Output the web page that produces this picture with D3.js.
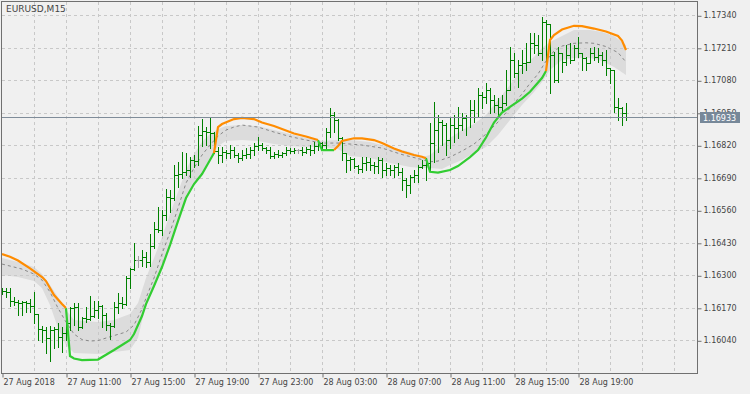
<!DOCTYPE html>
<html>
<head>
<meta charset="utf-8">
<script src="https://cdn.jsdelivr.net/npm/d3@7"></script>
<style>
  html, body { margin: 0; padding: 0; background: #f0f0f0; }
  svg { display: block; font-family: "DejaVu Sans", Verdana, sans-serif; }
</style>
</head>
<body>
<div id="chart"></div>
<script>
// Chart size
const width = 750;
const height = 394;

const symbol = 'EURUSD,M15';
const lastPrice = 1.16933;

// Price axis labels
const priceTicks = [1.16040, 1.16170, 1.16300, 1.16430, 1.16560, 1.16690, 1.16820, 1.16950, 1.17080, 1.17210, 1.17340];

// Time axis labels and the bar each one sits on (M15 bars, first bar 27 Aug 07:00)
const timeLabels = ['27 Aug 2018', '27 Aug 11:00', '27 Aug 15:00', '27 Aug 19:00', '27 Aug 23:00',
  '28 Aug 03:00', '28 Aug 07:00', '28 Aug 11:00', '28 Aug 15:00', '28 Aug 19:00'];
const timeLabelBars = [0, 16, 32, 48, 64, 80, 96, 112, 128, 144];

// OHLC bars
const opens = [
  1.16241, 1.16237, 1.16233, 1.16197, 1.16193, 1.16189, 1.16193, 1.16189, 1.16177, 1.16145,
  1.16085, 1.16081, 1.16049, 1.16081, 1.16085, 1.16053, 1.16069, 1.16109, 1.16169, 1.16173,
  1.16093, 1.16129, 1.16125, 1.16137, 1.16161, 1.16177, 1.16141, 1.16101, 1.16097, 1.16173,
  1.16189, 1.16185, 1.16289, 1.16325, 1.16361, 1.16361, 1.16373, 1.16353, 1.16417, 1.16485,
  1.16481, 1.16541, 1.16613, 1.16609, 1.16701, 1.16705, 1.16713, 1.16721, 1.16761, 1.16757,
  1.16861, 1.16877, 1.16873, 1.16869, 1.16797, 1.16781, 1.16793, 1.16789, 1.16801, 1.16781,
  1.16769, 1.16781, 1.16785, 1.16801, 1.16817, 1.16821, 1.16809, 1.16801, 1.16777, 1.16785,
  1.16781, 1.16789, 1.16801, 1.16797, 1.16801, 1.16801, 1.16793, 1.16805, 1.16801, 1.16817,
  1.16829, 1.16821, 1.16873, 1.16941, 1.16921, 1.16849, 1.16789, 1.16761, 1.16765, 1.16737,
  1.16725, 1.16749, 1.16753, 1.16741, 1.16737, 1.16761, 1.16721, 1.16729, 1.16721, 1.16733,
  1.16713, 1.16681, 1.16661, 1.16693, 1.16701, 1.16733, 1.16741, 1.16749, 1.16829, 1.16881,
  1.16913, 1.16901, 1.16841, 1.16901, 1.16889, 1.16901, 1.16929, 1.16933, 1.16961, 1.16933,
  1.17021, 1.17013, 1.17041, 1.17001, 1.16981, 1.16973, 1.16989, 1.17041, 1.17161, 1.17109,
  1.17141, 1.17149, 1.17153, 1.17229, 1.17221, 1.17189, 1.17313, 1.17305, 1.17181, 1.17081,
  1.17189, 1.17153, 1.17181, 1.17161, 1.17209, 1.17189, 1.17169, 1.17149, 1.17189, 1.17173,
  1.17181, 1.17161, 1.17129, 1.17121, 1.16973, 1.16969, 1.16949
];
const highs = [
  1.16249, 1.16249, 1.16249, 1.16213, 1.16201, 1.16197, 1.16197, 1.16205, 1.16233, 1.16145,
  1.16097, 1.16093, 1.16097, 1.16093, 1.16109, 1.16093, 1.16121, 1.16173, 1.16189, 1.16189,
  1.16133, 1.16173, 1.16217, 1.16197, 1.16197, 1.16181, 1.16149, 1.16109, 1.16193, 1.16229,
  1.16213, 1.16297, 1.16329, 1.16429, 1.16377, 1.16401, 1.16393, 1.16465, 1.16513, 1.16573,
  1.16561, 1.16645, 1.16641, 1.16741, 1.16753, 1.16793, 1.16789, 1.16773, 1.16781, 1.16897,
  1.16925, 1.16893, 1.16933, 1.16873, 1.16813, 1.16813, 1.16801, 1.16821, 1.16813, 1.16789,
  1.16801, 1.16809, 1.16813, 1.16829, 1.16853, 1.16829, 1.16813, 1.16813, 1.16793, 1.16801,
  1.16793, 1.16813, 1.16809, 1.16809, 1.16805, 1.16813, 1.16813, 1.16821, 1.16833, 1.16841,
  1.16833, 1.16889, 1.16969, 1.16953, 1.16925, 1.16853, 1.16789, 1.16773, 1.16769, 1.16741,
  1.16773, 1.16773, 1.16769, 1.16753, 1.16773, 1.16769, 1.16749, 1.16741, 1.16741, 1.16749,
  1.16729, 1.16689, 1.16701, 1.16721, 1.16741, 1.16761, 1.16769, 1.16909, 1.16993, 1.16941,
  1.16921, 1.16909, 1.16929, 1.16941, 1.16973, 1.16949, 1.16941, 1.17001, 1.17001, 1.17049,
  1.17033, 1.17069, 1.17049, 1.17021, 1.17009, 1.17021, 1.17121, 1.17213, 1.17189, 1.17161,
  1.17201, 1.17229, 1.17269, 1.17269, 1.17261, 1.17333, 1.17321, 1.17305, 1.17193, 1.17213,
  1.17189, 1.17221, 1.17229, 1.17221, 1.17253, 1.17189, 1.17173, 1.17209, 1.17213, 1.17209,
  1.17193, 1.17201, 1.17129, 1.17121, 1.17009, 1.16973, 1.16989
];
const lows = [
  1.16225, 1.16213, 1.16177, 1.16181, 1.16141, 1.16141, 1.16153, 1.16153, 1.16109, 1.16041,
  1.16033, 1.15989, 1.15957, 1.16009, 1.16013, 1.15993, 1.16041, 1.16081, 1.16101, 1.16081,
  1.16089, 1.16113, 1.16121, 1.16133, 1.16129, 1.16093, 1.16081, 1.16045, 1.16093, 1.16149,
  1.16169, 1.16181, 1.16249, 1.16321, 1.16333, 1.16337, 1.16333, 1.16337, 1.16409, 1.16473,
  1.16461, 1.16521, 1.16553, 1.16601, 1.16653, 1.16689, 1.16701, 1.16693, 1.16733, 1.16741,
  1.16817, 1.16821, 1.16809, 1.16789, 1.16749, 1.16753, 1.16769, 1.16769, 1.16773, 1.16753,
  1.16761, 1.16769, 1.16769, 1.16781, 1.16801, 1.16801, 1.16789, 1.16769, 1.16769, 1.16773,
  1.16773, 1.16781, 1.16789, 1.16789, 1.16789, 1.16781, 1.16789, 1.16781, 1.16789, 1.16801,
  1.16809, 1.16801, 1.16853, 1.16873, 1.16841, 1.16761, 1.16713, 1.16721, 1.16729, 1.16709,
  1.16713, 1.16721, 1.16721, 1.16709, 1.16709, 1.16693, 1.16701, 1.16701, 1.16693, 1.16701,
  1.16641, 1.16613, 1.16629, 1.16673, 1.16673, 1.16729, 1.16681, 1.16721, 1.16753, 1.16793,
  1.16821, 1.16781, 1.16809, 1.16833, 1.16849, 1.16881, 1.16861, 1.16893, 1.16913, 1.16933,
  1.16969, 1.16989, 1.16949, 1.16953, 1.16933, 1.16961, 1.16981, 1.17041, 1.17093, 1.17053,
  1.17109, 1.17121, 1.17153, 1.17189, 1.17181, 1.17161, 1.17149, 1.17029, 1.17073, 1.17073,
  1.17113, 1.17141, 1.17149, 1.17161, 1.17173, 1.17121, 1.17121, 1.17149, 1.17161, 1.17153,
  1.17141, 1.17101, 1.17069, 1.16953, 1.16921, 1.16901, 1.16921
];
const closes = [
  1.16237, 1.16233, 1.16197, 1.16193, 1.16189, 1.16193, 1.16189, 1.16177, 1.16145, 1.16085,
  1.16081, 1.16049, 1.16081, 1.16085, 1.16053, 1.16069, 1.16109, 1.16169, 1.16173, 1.16093,
  1.16129, 1.16125, 1.16137, 1.16161, 1.16177, 1.16141, 1.16101, 1.16097, 1.16173, 1.16189,
  1.16185, 1.16289, 1.16325, 1.16361, 1.16361, 1.16373, 1.16353, 1.16417, 1.16485, 1.16481,
  1.16541, 1.16613, 1.16609, 1.16701, 1.16705, 1.16713, 1.16721, 1.16761, 1.16757, 1.16861,
  1.16877, 1.16873, 1.16869, 1.16797, 1.16781, 1.16793, 1.16789, 1.16801, 1.16781, 1.16769,
  1.16781, 1.16785, 1.16801, 1.16817, 1.16821, 1.16809, 1.16801, 1.16777, 1.16785, 1.16781,
  1.16789, 1.16801, 1.16797, 1.16801, 1.16801, 1.16793, 1.16805, 1.16801, 1.16817, 1.16829,
  1.16821, 1.16873, 1.16941, 1.16921, 1.16849, 1.16789, 1.16761, 1.16765, 1.16737, 1.16725,
  1.16749, 1.16753, 1.16741, 1.16737, 1.16761, 1.16721, 1.16729, 1.16721, 1.16733, 1.16713,
  1.16681, 1.16661, 1.16693, 1.16701, 1.16733, 1.16741, 1.16749, 1.16829, 1.16881, 1.16913,
  1.16901, 1.16841, 1.16901, 1.16889, 1.16901, 1.16929, 1.16933, 1.16961, 1.16933, 1.17021,
  1.17013, 1.17041, 1.17001, 1.16981, 1.16973, 1.16989, 1.17041, 1.17161, 1.17109, 1.17141,
  1.17149, 1.17153, 1.17229, 1.17221, 1.17189, 1.17313, 1.17305, 1.17181, 1.17081, 1.17189,
  1.17153, 1.17181, 1.17161, 1.17209, 1.17189, 1.17169, 1.17149, 1.17189, 1.17173, 1.17181,
  1.17161, 1.17129, 1.17121, 1.16973, 1.16969, 1.16949, 1.16933
];

// Indicator: [bar, price]; null breaks the line between trend segments
const bearLine = [
  [0, 1.16385], [2, 1.16374], [4, 1.16359], [7, 1.16328], [10, 1.16293], [11, 1.16277], [13, 1.16221], [15, 1.16185], [16, 1.16169], null,
  [53, 1.16789], [54, 1.16893], [55, 1.16905], [58, 1.16925], [60, 1.16930], [63, 1.16925], [65, 1.16911], [68, 1.16897], [70, 1.16885], [73, 1.16867], [76, 1.16855], [79, 1.16841], null,
  [83, 1.16801], [84, 1.16817], [85, 1.16837], [88, 1.16848], [90, 1.16848], [93, 1.16841], [95, 1.16829], [98, 1.16807], [100, 1.16795], [103, 1.16781], [105, 1.16774], [106, 1.16768], null,
  [136, 1.17117], [137, 1.17241], [138, 1.17261], [140, 1.17283], [143, 1.17298], [145, 1.17297], [148, 1.17287], [151, 1.17275], [154, 1.17257], [155, 1.17239], [156, 1.17201]
];
const bullLine = [
  [16, 1.16169], [17, 1.15977], [18, 1.15967], [20, 1.15961], [24, 1.15963], [28, 1.16001], [30, 1.16021], [32, 1.16041], [33, 1.16065], [34, 1.16101],
  [35, 1.16137], [36, 1.16185], [38, 1.16257], [40, 1.16333], [42, 1.16421], [44, 1.16517], [46, 1.16609], [48, 1.16665], [50, 1.16705], [52, 1.16761], [53, 1.16789], null,
  [79, 1.16841], [80, 1.16801], [83, 1.16801], null,
  [106, 1.16768], [107, 1.16714], [109, 1.16711], [112, 1.16721], [114, 1.16737], [117, 1.16773], [119, 1.16801], [121, 1.16851], [123, 1.16911],
  [125, 1.16951], [127, 1.16974], [130, 1.17007], [132, 1.17034], [135, 1.17089], [136, 1.17117]
];
const midLine = [
  [0, 1.16345], [5, 1.16325], [8, 1.16305], [10, 1.16281], [12, 1.16233], [14, 1.16169], [16, 1.16113], [18, 1.16065], [20, 1.16043], [22, 1.16037],
  [24, 1.16039], [28, 1.16059], [31, 1.16073], [33, 1.16101], [34, 1.16133], [35, 1.16165], [36, 1.16209], [38, 1.16289], [40, 1.16385], [42, 1.16473],
  [44, 1.16569], [46, 1.16669], [48, 1.16729], [50, 1.16781], [52, 1.16821], [54, 1.16857], [56, 1.16881], [58, 1.16893], [60, 1.16901], [64, 1.16893],
  [68, 1.16873], [72, 1.16855], [76, 1.16841], [80, 1.16829], [84, 1.16829], [90, 1.16821], [95, 1.16809], [100, 1.16783], [104, 1.16767], [107, 1.16754],
  [109, 1.16757], [112, 1.16773], [115, 1.16797], [118, 1.16825], [121, 1.16865], [124, 1.16913], [127, 1.16969], [130, 1.17025], [132, 1.17068], [134, 1.17105],
  [136, 1.17157], [138, 1.17197], [140, 1.17217], [143, 1.17228], [146, 1.17230], [148, 1.17228], [151, 1.17215], [154, 1.17191], [156, 1.17153]
];
// Shaded channel: [bar, top, bottom]
const channel = [
  [0, 1.16369, 1.16301], [4, 1.16353, 1.16293], [8, 1.16333, 1.16277], [10, 1.16305, 1.16249], [12, 1.16261, 1.16181], [14, 1.16213, 1.16089],
  [16, 1.16161, 1.16021], [18, 1.16121, 1.15989], [24, 1.16113, 1.15985], [28, 1.16121, 1.15993], [32, 1.16145, 1.16001], [34, 1.16189, 1.16049],
  [36, 1.16289, 1.16185], [38, 1.16369, 1.16249], [40, 1.16453, 1.16333], [42, 1.16545, 1.16421], [44, 1.16633, 1.16513], [46, 1.16721, 1.16601],
  [48, 1.16785, 1.16661], [50, 1.16833, 1.16713], [52, 1.16865, 1.16769], [54, 1.16885, 1.16817], [56, 1.16897, 1.16837], [60, 1.16901, 1.16841],
  [64, 1.16897, 1.16837], [68, 1.16881, 1.16825], [72, 1.16865, 1.16817], [76, 1.16849, 1.16813], [80, 1.16837, 1.16813], [84, 1.16841, 1.16805],
  [87, 1.16841, 1.16777], [92, 1.16833, 1.16769], [97, 1.16813, 1.16749], [102, 1.16793, 1.16733], [105, 1.16773, 1.16729], [107, 1.16781, 1.16729],
  [110, 1.16821, 1.16725], [112, 1.16849, 1.16741], [115, 1.16881, 1.16761], [118, 1.16905, 1.16789], [121, 1.16941, 1.16813], [124, 1.17001, 1.16861],
  [127, 1.17061, 1.16921], [130, 1.17133, 1.16981], [133, 1.17173, 1.17033], [135, 1.17209, 1.17073], [137, 1.17233, 1.17121], [140, 1.17257, 1.17161],
  [143, 1.17281, 1.17169], [147, 1.17281, 1.17169], [150, 1.17273, 1.17157], [153, 1.17257, 1.17133], [156, 1.17221, 1.17101]
];

// Plot area
const plot = { left: 2, right: 697, top: 2, bottom: 373 };

const svg = d3.select('#chart')
  .append('svg')
  .attr('width', width)
  .attr('height', height);

svg.append('rect')
  .attr('width', width)
  .attr('height', height)
  .attr('fill', '#f0f0f0');

// Scales: one bar every 4 px, 25000 px per price unit
const x = d3.scaleLinear().domain([0, 173.75]).range([plot.left, plot.right]);
const y = d3.scaleLinear().domain([1.16040, 1.17340]).range([340.3, 15.3]);
const crisp = v => Math.round(v) + 0.5;

svg.append('clipPath')
  .attr('id', 'clip')
  .append('rect')
  .attr('x', plot.left)
  .attr('y', plot.top)
  .attr('width', plot.right - plot.left)
  .attr('height', plot.bottom - plot.top);

const body = svg.append('g').attr('clip-path', 'url(#clip)');

// Shaded channel
body.append('path')
  .datum(channel)
  .attr('fill', '#dcdcdc')
  .attr('d', d3.area()
    .x(d => x(d[0]))
    .y0(d => y(d[2]))
    .y1(d => y(d[1])));

// Grid
const grid = body.append('g')
  .attr('stroke', '#c8c8c8')
  .attr('stroke-dasharray', '3,3')
  .attr('shape-rendering', 'crispEdges');

grid.selectAll('.gx')
  .data(d3.range(8, 174, 8))
  .enter()
  .append('line')
  .attr('x1', d => crisp(x(d)))
  .attr('x2', d => crisp(x(d)))
  .attr('y1', plot.top)
  .attr('y2', plot.bottom);

grid.selectAll('.gy')
  .data(priceTicks)
  .enter()
  .append('line')
  .attr('x1', plot.left)
  .attr('x2', plot.right)
  .attr('y1', d => crisp(y(d)))
  .attr('y2', d => crisp(y(d)));

// Middle dashed line
body.append('path')
  .datum(midLine)
  .attr('fill', 'none')
  .attr('stroke', '#888888')
  .attr('stroke-width', 1)
  .attr('stroke-dasharray', '3,3')
  .attr('d', d3.line().x(d => x(d[0])).y(d => y(d[1])));

// Bars: high-low line, open tick left, close tick right
const bars = d3.range(opens.length).map(i => ({
  i, o: opens[i], h: highs[i], l: lows[i], c: closes[i]
}));
const barColor = d => d.o === d.c ? '#a0a0a0' : '#008000';

const barG = body.append('g').attr('shape-rendering', 'crispEdges');
const bar = barG.selectAll('g')
  .data(bars)
  .enter()
  .append('g')
  .attr('fill', barColor);

bar.append('rect')
  .attr('x', d => Math.round(x(d.i)))
  .attr('y', d => Math.round(y(d.h)))
  .attr('width', 1)
  .attr('height', d => Math.max(1, Math.round(y(d.l)) - Math.round(y(d.h)) + 1));

bar.append('rect')
  .attr('x', d => Math.round(x(d.i)) - 2)
  .attr('y', d => Math.round(y(d.o)))
  .attr('width', 2)
  .attr('height', 1);

bar.append('rect')
  .attr('x', d => Math.round(x(d.i)) + 1)
  .attr('y', d => Math.round(y(d.c)))
  .attr('width', 2)
  .attr('height', 1);

// Trend lines
const trend = d3.line()
  .defined(d => d !== null)
  .x(d => x(d[0]))
  .y(d => y(d[1]));

body.append('path')
  .datum(bullLine)
  .attr('fill', 'none')
  .attr('stroke', '#32cd32')
  .attr('stroke-width', 2.2)
  .attr('d', trend);

body.append('path')
  .datum(bearLine)
  .attr('fill', 'none')
  .attr('stroke', '#ff8c00')
  .attr('stroke-width', 2.2)
  .attr('d', trend);

// Last price line
body.append('line')
  .attr('x1', plot.left)
  .attr('x2', plot.right)
  .attr('y1', crisp(y(lastPrice)))
  .attr('y2', crisp(y(lastPrice)))
  .attr('stroke', '#7f8c99')
  .attr('stroke-width', 1);

// Frame
svg.append('rect')
  .attr('x', plot.left - 0.5)
  .attr('y', plot.top - 0.5)
  .attr('width', plot.right - plot.left + 1)
  .attr('height', plot.bottom - plot.top + 1)
  .attr('fill', 'none')
  .attr('stroke', '#707070');

// Price axis (the label under the price tag is only partly visible, as in MT4)
const yAxis = svg.append('g')
  .attr('transform', `translate(${plot.right + 0.5},0)`)
  .call(d3.axisRight(y)
    .tickValues(priceTicks)
    .tickSize(4)
    .tickFormat(d3.format('.5f')));
yAxis.select('.domain').remove();
yAxis.selectAll('line').attr('stroke', '#707070').attr('transform', 'translate(0,0.5)');
yAxis.selectAll('text')
  .attr('x', 6)
  .attr('fill', '#454545')
  .style('font-size', '8px')
  .style('font-family', '"DejaVu Sans", Verdana, sans-serif');

// Time axis
const xAxis = svg.append('g')
  .attr('transform', `translate(0,${plot.bottom + 0.5})`)
  .call(d3.axisBottom(x)
    .tickValues(timeLabelBars)
    .tickSize(4)
    .tickFormat((d, i) => timeLabels[i]));
xAxis.select('.domain').remove();
xAxis.selectAll('line').attr('stroke', '#707070').attr('transform', 'translate(0.5,0)');
xAxis.selectAll('text')
  .attr('text-anchor', 'start')
  .attr('x', 1)
  .attr('y', 6)
  .attr('fill', '#454545')
  .style('font-size', '8px')
  .style('font-family', '"DejaVu Sans", Verdana, sans-serif');

// Last price tag
const tagY = Math.round(y(lastPrice));
svg.append('rect')
  .attr('x', 700)
  .attr('y', tagY - 5)
  .attr('width', 40)
  .attr('height', 11)
  .attr('fill', '#778899');
svg.append('text')
  .attr('x', 703)
  .attr('y', tagY + 4)
  .attr('fill', '#ffffff')
  .style('font-size', '8px')
  .text(d3.format('.5f')(lastPrice));

// Symbol title
svg.append('text')
  .attr('x', 6)
  .attr('y', 12)
  .attr('fill', '#454545')
  .style('font-size', '9px')
  .text(symbol);
</script>
</body>
</html>
